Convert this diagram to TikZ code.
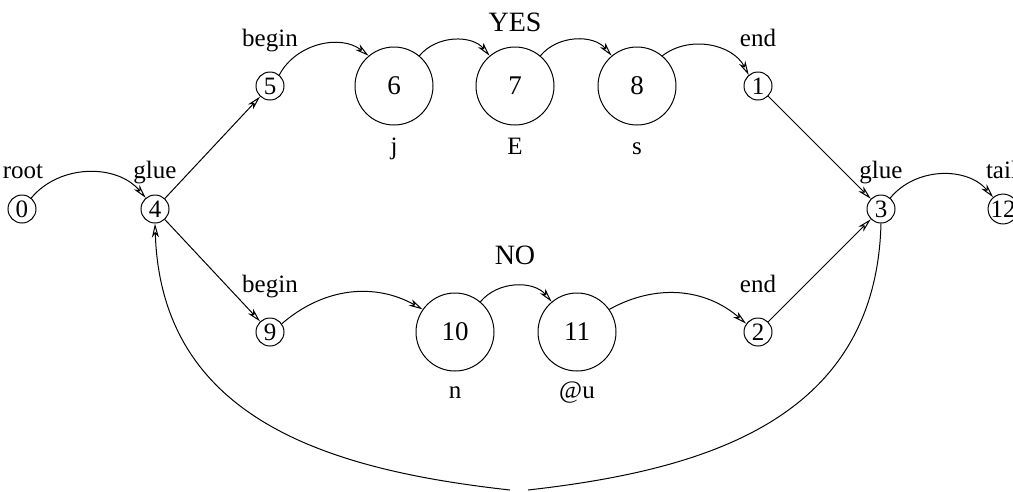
\documentclass[tikz,border=0pt]{standalone}
\usepackage{fontspec}
\setmainfont{Liberation Serif}
\usetikzlibrary{arrows.meta}
\begin{document}
\begin{tikzpicture}[x=1pt,y=-1pt,
  line width=1pt,
  >={Stealth[open,length=14pt,width=7pt,inset=4pt]},
  small/.style={draw,circle,minimum size=28pt,inner sep=0pt,font=\fontsize{25}{25}\selectfont},
  big/.style={draw,circle,minimum size=78pt,inner sep=0pt,font=\fontsize{27}{27}\selectfont},
  lbl/.style={font=\fontsize{25}{25}\selectfont,inner sep=0pt,anchor=base},
  ttl/.style={font=\fontsize{28}{28}\selectfont,inner sep=0pt,anchor=base},
  arc/.style={->,bend left=50}]
\useasboundingbox (0,0) rectangle (1013,491);
\clip (0,0) rectangle (1013,491);
% states
\node[small] (n0) at (22,209) {0};
\node[small] (n4) at (155,209) {4};
\node[small] (n5) at (270,86) {5};
\node[big] (n6) at (394,86) {6};
\node[big] (n7) at (515,86) {7};
\node[big] (n8) at (637,86) {8};
\node[small] (n1) at (758,86) {1};
\node[small] (n3) at (881,209) {3};
\node[small] (n12) at (1003,209) {12};
\node[small] (n9) at (270,332) {9};
\node[big] (n10) at (455,332) {10};
\node[big] (n11) at (577,332) {11};
\node[small] (n2) at (758,332) {2};
% labels
\node[lbl] (lroot) at (23,178) {root};
\node[lbl] (lglue1) at (155,178) {glue};
\node[lbl] (lbeg1) at (270,46) {begin};
\node[lbl] (lend1) at (758,46) {end};
\node[lbl] (lglue2) at (881,178) {glue};
\node[lbl] (ltail) at (1002,178) {tail};
\node[lbl] (lbeg2) at (270,292) {begin};
\node[lbl] (lend2) at (758,292) {end};
\node[ttl] (yes) at (515,31) {YES};
\node[ttl] (no) at (515,264) {NO};
\node[lbl] (lj) at (394,154) {j};
\node[lbl] (lE) at (515,154) {E};
\node[lbl] (ls) at (637,154) {s};
\node[lbl] (ln) at (455,398) {n};
\node[lbl] (lu) at (577,398) {@u};
% transitions
\draw[arc] (n0) to (n4);
\draw[->] (n4) -- (n5);
\draw[->] (n4) -- (n9);
\draw[arc] (n5) to (n6);
\draw[arc] (n6) to (n7);
\draw[arc] (n7) to (n8);
\draw[arc] (n8) to (n1);
\draw[->] (n1) -- (n3);
\draw[arc,bend left=35] (n9) to (n10);
\draw[arc] (n10) to (n11);
\draw[arc,bend left=35] (n11) to (n2);
\draw[->] (n2) -- (n3);
\draw[arc] (n3) to (n12);
% loop back from 3 to 4
\coordinate (lb) at (510,490);
\coordinate (rb) at (528,490);
\draw (n3.south) .. controls (876,420) and (705,470) .. (rb);
\draw[->] (lb) .. controls (330,470) and (161,420) .. (n4.south);
\end{tikzpicture}
\end{document}
